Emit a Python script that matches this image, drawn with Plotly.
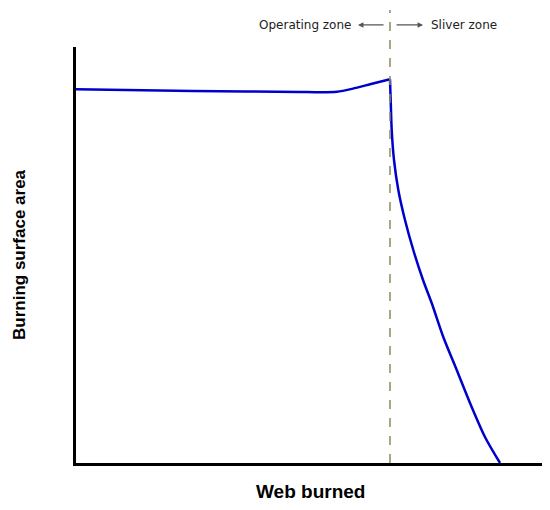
import plotly.graph_objects as go

# Curve (web burned vs burning surface area), arbitrary units 0-100
# Operating zone part
operating_web = [0, 25.0, 47.86, 52.14, 55.77, 59.19, 62.82, 67.09]
operating_area = [89.83, 89.42, 89.18, 89.11, 89.23, 90.0, 91.03, 92.24]
# Sliver zone part (starts at the peak of the operating zone)
sliver_web = [67.09, 67.24, 67.46, 67.95, 68.87, 70.30, 72.07, 74.15, 76.00,
              78.48, 81.35, 84.19, 87.39, 90.60]
sliver_area = [92.24, 87.26, 80.05, 72.84, 65.63, 58.41, 51.20, 43.99, 38.46,
               30.29, 22.36, 14.42, 6.25, 0.0]

sliver_start = 67.09
x_title = "Web burned"
y_title = "Burning surface area"
left_label = "Operating zone"
right_label = "Sliver zone"

line_style = dict(color="#0000CC", width=2.5)
fig = go.Figure()
fig.add_trace(go.Scatter(x=operating_web, y=operating_area, mode="lines",
                         line=dict(shape="spline", smoothing=0.5, **line_style),
                         hoverinfo="skip", showlegend=False))
fig.add_trace(go.Scatter(x=sliver_web, y=sliver_area, mode="lines",
                         line=dict(shape="spline", smoothing=0.8, **line_style),
                         hoverinfo="skip", showlegend=False))

fig.add_shape(type="line", xref="x", yref="paper", x0=sliver_start, x1=sliver_start,
              y0=0, y1=1.089, line=dict(color="#8B8B5A", width=1.5, dash="dash"))

ann_y = 1.053
arrow = dict(showarrow=True, arrowhead=2, arrowsize=0.9, arrowwidth=1.2,
             arrowcolor="#555", text="", xref="paper", yref="paper",
             axref="pixel", ayref="pixel", ay=0)
fig.add_annotation(x=0.6026, y=ann_y, ax=27, **arrow)
fig.add_annotation(x=0.7415, y=ann_y, ax=-28, **arrow)

ann_font = dict(family="DejaVu Sans", size=12, color="#222")
fig.add_annotation(x=0.5919, y=ann_y, xref="paper", yref="paper", text=left_label,
                   showarrow=False, xanchor="right", yanchor="middle", font=ann_font)
fig.add_annotation(x=0.7543, y=ann_y, xref="paper", yref="paper", text=right_label,
                   showarrow=False, xanchor="left", yanchor="middle", font=ann_font)

fig.add_annotation(x=0.5, y=0, xref="paper", yref="paper", text="<b>%s</b>" % x_title,
                   showarrow=False, xanchor="center", yanchor="middle", yshift=-28,
                   font=dict(family="Liberation Sans", size=19, color="black"))
fig.add_annotation(x=0, y=0.5, xref="paper", yref="paper", text="<b>%s</b>" % y_title,
                   showarrow=False, xanchor="center", yanchor="middle", xshift=-57,
                   textangle=-90,
                   font=dict(family="Liberation Sans", size=17, color="black"))

fig.update_xaxes(range=[0, 100], showgrid=False, zeroline=False, showticklabels=False,
                 ticks="", showline=True, linecolor="black", linewidth=2.5)
fig.update_yaxes(range=[0, 100], showgrid=False, zeroline=False, showticklabels=False,
                 ticks="", showline=True, linecolor="black", linewidth=2.5)

# the page body adds an 8 px margin, so the figure is shrunk and margins shifted by 8 px
fig.update_layout(width=542, height=502, margin=dict(l=68, r=6, t=39, b=47),
                  plot_bgcolor="white", paper_bgcolor="white")
fig.write_html("out.html")
